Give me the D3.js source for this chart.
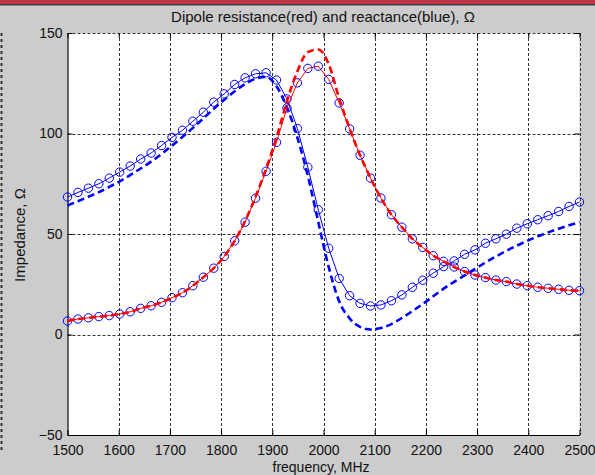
<!DOCTYPE html>
<html>
<head>
<meta charset="utf-8">
<script src="https://cdn.jsdelivr.net/npm/d3@7"></script>
<style>
  html, body { margin: 0; padding: 0; background: #cccccc; overflow: hidden; }
  svg { display: block; }
  text { font-family: "Liberation Sans", Arial, sans-serif; fill: #111; }
</style>
</head>
<body>
<svg id="chart" width="595" height="475"></svg>
<script>
// ---- data ----
const freqMHz = [1500, 1520.4, 1540.8, 1561.2, 1581.6, 1602.0, 1622.4, 1642.9, 1663.3, 1683.7,
  1704.1, 1724.5, 1744.9, 1765.3, 1785.7, 1806.1, 1826.5, 1846.9, 1867.3, 1887.8,
  1908.2, 1928.6, 1949.0, 1969.4, 1989.8, 2010.2, 2030.6, 2051.0, 2071.4, 2091.8,
  2112.2, 2132.7, 2153.1, 2173.5, 2193.9, 2214.3, 2234.7, 2255.1, 2275.5, 2295.9,
  2316.3, 2336.7, 2357.1, 2377.6, 2398.0, 2418.4, 2438.8, 2459.2, 2479.6, 2500];

// reactance, thin line with circle markers
const reactanceMarked = [68.4, 70.7, 72.8, 75.0, 77.8, 80.8, 83.8, 87.3, 90.3, 94.0,
  98.1, 101.6, 106.1, 110.6, 115.6, 119.7, 124.4, 127.7, 129.7, 130.2,
  126.6, 117.2, 102.5, 83.2, 62.1, 42.9, 27.9, 19.3, 15.5, 14.2,
  14.7, 16.8, 19.7, 23.5, 27.0, 30.5, 33.8, 36.6, 39.9, 42.1,
  45.4, 47.6, 49.9, 52.9, 55.1, 57.1, 59.1, 61.2, 63.7, 65.9];

// reactance, thick dashed line
const reactanceDashed = [64.2, 66.3, 68.5, 70.8, 73.4, 76.2, 79.3, 82.6, 86.0, 89.8,
  94.0, 98.3, 102.8, 107.5, 112.3, 116.8, 121.0, 124.6, 127.3, 128.2,
  123.5, 113.0, 98.0, 79.0, 56.0, 33.5, 16.5, 8.0, 3.8, 2.5,
  3.2, 5.2, 8.2, 11.6, 15.2, 19.0, 22.8, 26.2, 29.4, 32.6,
  35.8, 38.8, 41.6, 44.2, 46.6, 48.8, 50.8, 52.6, 54.3, 55.9];

// resistance, thin line with circle markers
const resistanceMarked = [6.7, 7.7, 8.3, 8.9, 9.4, 10.2, 11.3, 13.0, 14.3, 16.0,
  18.3, 20.8, 24.3, 28.5, 33.0, 38.8, 46.6, 55.9, 67.8, 81.2,
  95.6, 112.7, 125.2, 132.4, 133.5, 126.9, 115.2, 102.3, 89.2, 77.8,
  67.9, 59.6, 53.4, 47.6, 43.3, 39.2, 36.4, 33.6, 31.3, 29.6,
  28.3, 27.1, 26.3, 25.1, 24.3, 23.5, 23.0, 22.5, 22.0, 21.8];

// resistance, thick dashed line
const resistanceDashed = [6.7, 7.7, 8.3, 8.9, 9.4, 10.2, 11.3, 13.0, 14.3, 16.0,
  18.3, 20.8, 24.3, 28.5, 33.0, 38.8, 46.6, 56.5, 68.5, 82.5,
  98.0, 116.0, 131.0, 140.5, 141.8, 134.5, 117.5, 102.5, 89.2, 77.8,
  67.9, 59.6, 53.4, 47.6, 43.3, 39.2, 36.4, 33.6, 31.3, 29.6,
  28.3, 27.1, 26.3, 25.1, 24.3, 23.5, 23.0, 22.5, 22.0, 21.8];

const xTicks = [1500, 1600, 1700, 1800, 1900, 2000, 2100, 2200, 2300, 2400, 2500];
const yTicks = [-50, 0, 50, 100, 150];

const titleText = "Dipole resistance(red) and reactance(blue), \u03A9";
const xLabelText = "frequency, MHz";
const yLabelText = "Impedance, \u03A9";

// ---- layout ----
const svg = d3.select("#chart");
const L = 67.5, R = 579.5, T = 33, B = 435;
const x = d3.scaleLinear().domain([1500, 2500]).range([L, R]);
const y = d3.scaleLinear().domain([-50, 150]).range([B, T]);

// window chrome
svg.append("rect").attr("x", 0).attr("y", 0).attr("width", 595).attr("height", 475).attr("fill", "#cccccc");
svg.append("rect").attr("x", 0).attr("y", 0).attr("width", 595).attr("height", 4).attr("fill", "#c03448");
svg.append("rect").attr("x", 0).attr("y", 4).attr("width", 595).attr("height", 1.5).attr("fill", "#3c3c4a");
svg.append("line").attr("x1", 1.5).attr("x2", 1.5).attr("y1", 33).attr("y2", 450)
  .attr("stroke", "#333").attr("stroke-width", 2).attr("stroke-dasharray", "3,3");

// plot area
svg.append("rect").attr("x", L).attr("y", T).attr("width", R - L).attr("height", B - T).attr("fill", "#fff");

// grid
const grid = svg.append("g").attr("stroke", "#333").attr("stroke-width", 1).attr("stroke-dasharray", "3,2").attr("fill", "none");
xTicks.filter(d => d !== 1500).forEach(d => {
  grid.append("line").attr("x1", Math.round(x(d)) + 0.5).attr("x2", Math.round(x(d)) + 0.5).attr("y1", T).attr("y2", B);
});
yTicks.filter(d => d !== -50).forEach(d => {
  grid.append("line").attr("x1", L).attr("x2", R).attr("y1", Math.round(y(d)) + 0.5).attr("y2", Math.round(y(d)) + 0.5);
});

// axes (bottom & left solid, inward ticks on all sides)
const fmt = d3.format("d");
const xAxisB = d3.axisBottom(x).tickValues(xTicks).tickFormat(fmt).tickSize(-5).tickPadding(10).tickSizeOuter(0);
const gxb = svg.append("g").attr("transform", `translate(0,${B})`).call(xAxisB);
const xAxisT = d3.axisTop(x).tickValues(xTicks).tickSize(-5).tickFormat("").tickSizeOuter(0);
const gxt = svg.append("g").attr("transform", `translate(0,${T})`).call(xAxisT);
const yAxisL = d3.axisLeft(y).tickValues(yTicks).tickFormat(fmt).tickSize(-5).tickPadding(5).tickSizeOuter(0);
const gyl = svg.append("g").attr("transform", `translate(${L},0)`).call(yAxisL);
const yAxisR = d3.axisRight(y).tickValues(yTicks).tickSize(-5).tickFormat("").tickSizeOuter(0);
const gyr = svg.append("g").attr("transform", `translate(${R},0)`).call(yAxisR);
[gxt, gyr].forEach(g => g.select(".domain").remove());
[gxb, gyl, gxt, gyr].forEach(g => g.selectAll(".tick line").attr("stroke", "#000"));
[gxb, gyl].forEach(g => g.select(".domain").attr("stroke", "#000").attr("stroke-width", 1.2));
gxb.selectAll(".tick text").attr("font-size", 14).attr("font-family", "Liberation Sans, Arial, sans-serif").attr("fill", "#111");
gyl.selectAll(".tick text").attr("font-size", 14).attr("font-family", "Liberation Sans, Arial, sans-serif").attr("fill", "#111");

// series
const pts = vals => freqMHz.map((f, i) => [f, vals[i]]);
const lineLin = d3.line().x(d => x(d[0])).y(d => y(d[1]));
const lineSmooth = d3.line().x(d => x(d[0])).y(d => y(d[1])).curve(d3.curveMonotoneX);

function dashed(vals, color) {
  svg.append("path").datum(pts(vals)).attr("d", lineSmooth)
    .attr("fill", "none").attr("stroke", color).attr("stroke-width", 2.6)
    .attr("stroke-dasharray", "7,4");
}
function marked(vals, lineColor) {
  svg.append("path").datum(pts(vals)).attr("d", lineLin)
    .attr("fill", "none").attr("stroke", lineColor).attr("stroke-width", 1);
  svg.append("g").selectAll("circle").data(pts(vals)).join("circle")
    .attr("cx", d => x(d[0])).attr("cy", d => y(d[1])).attr("r", 4.2)
    .attr("fill", "none").attr("stroke", "#0000ff").attr("stroke-width", 1);
}

dashed(reactanceDashed, "#0000ff");
marked(reactanceMarked, "#0000ff");
marked(resistanceMarked, "#ff0000");
dashed(resistanceDashed, "#ff0000");

// texts
svg.append("text").attr("x", 323).attr("y", 22).attr("text-anchor", "middle")
  .attr("font-size", 15).text(titleText);
svg.append("text").attr("x", 321).attr("y", 472).attr("text-anchor", "middle")
  .attr("font-size", 14).text(xLabelText);
svg.append("text").attr("transform", "translate(25,235) rotate(-90)").attr("text-anchor", "middle")
  .attr("font-size", 15).text(yLabelText);
</script>
</body>
</html>
